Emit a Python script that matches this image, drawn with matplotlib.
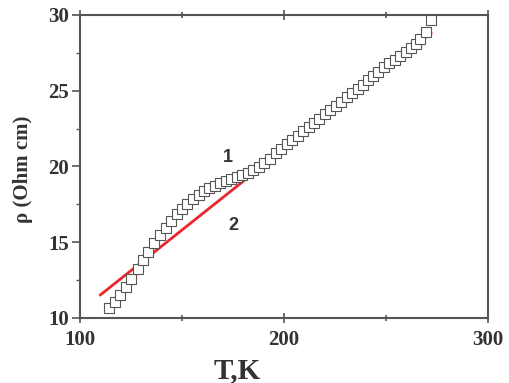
import matplotlib
matplotlib.use("Agg")
import matplotlib.pyplot as plt
from matplotlib.ticker import MultipleLocator

T = [114.4, 117.2, 119.8, 122.4, 125.2, 128.3, 130.9, 133.5, 136.4, 139.2,
     142.0, 144.8, 147.4, 150.0, 152.6, 155.4, 158.2, 160.8, 163.4, 166.0,
     168.6, 171.4, 174.0, 176.8, 179.4, 182.2, 185.0, 187.7, 190.4, 193.1,
     195.8, 198.5, 201.2, 203.9, 206.6, 209.3, 212.0, 214.7, 217.3, 220.0,
     222.7, 225.4, 228.1, 230.8, 233.5, 236.2, 238.9, 241.3, 243.8, 246.2,
     249.0, 251.6, 254.3, 256.9, 259.7, 262.3, 264.6, 266.7, 269.5, 272.1]
rho = [10.68, 11.04, 11.52, 12.03, 12.57, 13.21, 13.83, 14.38, 14.97, 15.48,
       15.96, 16.42, 16.84, 17.17, 17.50, 17.88, 18.12, 18.36, 18.56, 18.73,
       18.89, 19.04, 19.17, 19.31, 19.44, 19.57, 19.76, 19.98, 20.24, 20.52,
       20.86, 21.18, 21.47, 21.76, 22.04, 22.32, 22.60, 22.88, 23.15, 23.43,
       23.71, 23.99, 24.27, 24.55, 24.82, 25.10, 25.38, 25.71, 25.99, 26.26,
       26.55, 26.81, 27.03, 27.31, 27.54, 27.80, 28.07, 28.40, 28.90, 29.67]

# linear fits (red lines)
fit_low_T = [110.0, 180.0]
fit_low_rho = [11.52, 19.02]
fit_high_T = [190.0, 272.0]
fit_high_rho = [20.35, 28.80]

fig = plt.figure(figsize=(5.1, 3.83), dpi=100)
ax = fig.add_axes([0.157, 0.170, 0.800, 0.791])

ax.plot(fit_low_T, fit_low_rho, color="#e8262b", lw=2, zorder=2)
ax.plot(fit_high_T, fit_high_rho, color="#e8262b", lw=2, zorder=1)
ax.plot(T, rho, ls="none", marker="s", ms=6.5, mfc="white", mec="#555555",
        mew=0.8, zorder=3)

ax.text(172.5, 20.6, "1", fontsize=13, fontweight="bold", color="#333333",
        ha="center", va="center", family="Liberation Sans")
ax.text(175, 16.1, "2", fontsize=13, fontweight="bold", color="#333333",
        ha="center", va="center", family="Liberation Sans")

ax.set_xlim(100, 300)
ax.set_ylim(10, 30)
ax.xaxis.set_major_locator(MultipleLocator(100))
ax.xaxis.set_minor_locator(MultipleLocator(50))
ax.yaxis.set_major_locator(MultipleLocator(5))
ax.yaxis.set_minor_locator(MultipleLocator(2.5))

for s in ax.spines.values():
    s.set_color("#555555")
    s.set_linewidth(1.5)

ax.tick_params(axis="y", which="major", direction="out", length=6, width=1.2,
               color="#555555", labelsize=15, labelcolor="#333333", pad=2)
ax.tick_params(axis="y", which="minor", direction="out", length=3, width=1,
               color="#555555")
ax.tick_params(axis="x", which="both", direction="inout", length=7, width=1.2,
               color="#555555", labelsize=15, labelcolor="#333333", pad=5,
               top=True)
ax.tick_params(axis="x", which="minor", length=5)

for lab in ax.get_xticklabels() + ax.get_yticklabels():
    lab.set_family("Liberation Serif")
    lab.set_fontweight("bold")

ax.set_xlabel("T,K", fontsize=21, fontweight="bold", family="Liberation Serif",
              color="#333333")
ax.xaxis.set_label_coords(0.384, -0.13)
ax.set_ylabel("ρ (Ohm cm)", fontsize=15, fontweight="bold",
              family="Liberation Serif", color="#333333")
ax.yaxis.set_label_coords(-0.115, 0.49)

fig.savefig("out.png", dpi=100)
